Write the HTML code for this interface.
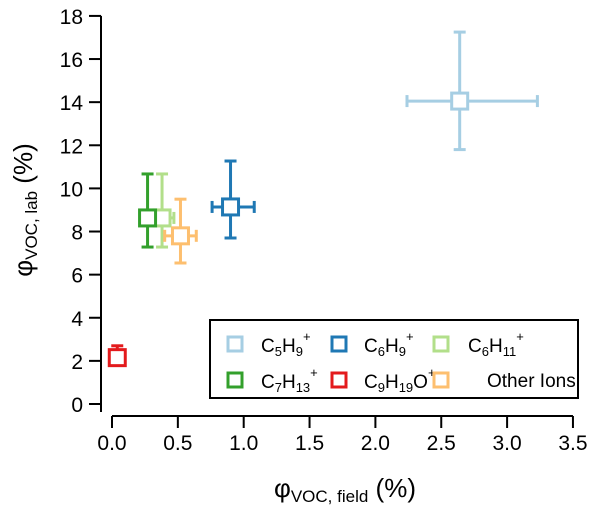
<!DOCTYPE html>
<html><head><meta charset="utf-8"><style>
body{margin:0;background:#fff}
svg text{font-family:"Liberation Sans",sans-serif;fill:#000}
</style></head><body>
<svg width="600" height="509" viewBox="0 0 600 509" xmlns="http://www.w3.org/2000/svg">
<g id="axes"></g>
<g id="marks"></g>
<g>
<rect x="210" y="320" width="368" height="78" fill="#fff" stroke="#000" stroke-width="2"/>
<rect x="228" y="337" width="14" height="14" fill="none" stroke="#a6cee3" stroke-width="3"/>
<text x="261" y="352" font-size="19">C<tspan font-size="13" dy="4">5</tspan><tspan dy="-4">H</tspan><tspan font-size="13" dy="4">9</tspan><tspan font-size="13" dy="-15">+</tspan></text>
<rect x="332" y="337" width="14" height="14" fill="none" stroke="#1f78b4" stroke-width="3"/>
<text x="364" y="352" font-size="19">C<tspan font-size="13" dy="4">6</tspan><tspan dy="-4">H</tspan><tspan font-size="13" dy="4">9</tspan><tspan font-size="13" dy="-15">+</tspan></text>
<rect x="434" y="337" width="14" height="14" fill="none" stroke="#b2df8a" stroke-width="3"/>
<text x="468" y="352" font-size="19">C<tspan font-size="13" dy="4">6</tspan><tspan dy="-4">H</tspan><tspan font-size="13" dy="4">11</tspan><tspan font-size="13" dy="-15">+</tspan></text>
<rect x="228" y="373" width="14" height="14" fill="none" stroke="#33a02c" stroke-width="3"/>
<text x="261" y="388" font-size="19">C<tspan font-size="13" dy="4">7</tspan><tspan dy="-4">H</tspan><tspan font-size="13" dy="4">13</tspan><tspan font-size="13" dy="-15">+</tspan></text>
<rect x="332" y="373" width="14" height="14" fill="none" stroke="#e31a1c" stroke-width="3"/>
<text x="364" y="388" font-size="19">C<tspan font-size="13" dy="4">9</tspan><tspan dy="-4">H</tspan><tspan font-size="13" dy="4">19</tspan><tspan dy="-4">O</tspan><tspan font-size="13" dy="-11">+</tspan></text>
<rect x="434" y="373" width="14" height="14" fill="none" stroke="#fdbf6f" stroke-width="3"/>
<text x="487" y="387" font-size="19">Other Ions</text>
</g>
<text x="345" y="497" font-size="26" text-anchor="middle">φ<tspan font-size="17" dy="5">VOC, field</tspan><tspan dy="-5"> (%)</tspan></text>
<text transform="translate(32,210) rotate(-90)" font-size="26" text-anchor="middle">φ<tspan font-size="17" dy="5">VOC, lab</tspan><tspan dy="-5"> (%)</tspan></text>
</svg>
<script>
const xTicks=[0,0.5,1,1.5,2,2.5,3,3.5];
const xTickLabels=["0.0","0.5","1.0","1.5","2.0","2.5","3.0","3.5"];
const yTicks=[0,2,4,6,8,10,12,14,16,18];
const seriesNames=["C5H9+","C6H9+","C6H11+","C7H13+","C9H19O+","Other Ions"];
const xVals=[2.64,0.90,0.38,0.27,0.04,0.52];
const yVals=[14.05,9.14,8.63,8.63,2.15,7.8];
const xLo=[2.24,0.76,0.29,0.27,0.04,0.40];
const xHi=[3.23,1.08,0.47,0.27,0.04,0.64];
const yLo=[11.8,7.7,7.28,7.28,2.15,6.54];
const yHi=[17.25,11.27,10.67,10.67,2.7,9.5];
const colors=["#a6cee3","#1f78b4","#b2df8a","#33a02c","#e31a1c","#fdbf6f"];
const NS="http://www.w3.org/2000/svg";
const sx=v=>112+v*131.7, sy=v=>404-v*21.56;
function mk(t,a,p){const e=document.createElementNS(NS,t);for(const k in a)e.setAttribute(k,a[k]);p.appendChild(e);return e;}
const ax=document.getElementById('axes');
let l=mk('line',{x1:101,y1:sy(18),x2:101,y2:412,stroke:'#000','stroke-width':2},ax);


l=mk('line',{x1:sx(0),y1:416,x2:sx(3.5),y2:416,stroke:'#000','stroke-width':2},ax);


yTicks.forEach(v=>{mk('line',{x1:89,x2:101,y1:sy(v),y2:sy(v),stroke:'#000','stroke-width':2},ax);
const t=mk('text',{x:83,y:sy(v)+8,'font-size':21,'text-anchor':'end'},ax);t.textContent=v;

});
xTicks.forEach((v,i)=>{mk('line',{x1:sx(v),x2:sx(v),y1:416,y2:428,stroke:'#000','stroke-width':2},ax);
const t=mk('text',{x:sx(v),y:450,'font-size':21,'text-anchor':'middle'},ax);t.textContent=xTickLabels[i];

});
const mg=document.getElementById('marks');
xVals.forEach((xv,i)=>{const g=mk('g',{stroke:colors[i],'stroke-width':3,fill:'none'},mg);


const cx=sx(xv),cy=sy(yVals[i]);
mk('line',{x1:cx,x2:cx,y1:sy(yHi[i]),y2:sy(yLo[i])},g);
mk('line',{x1:cx-6,x2:cx+6,y1:sy(yHi[i]),y2:sy(yHi[i])},g);
mk('line',{x1:cx-6,x2:cx+6,y1:sy(yLo[i]),y2:sy(yLo[i])},g);
if(xHi[i]>xLo[i]){mk('line',{x1:sx(xLo[i]),x2:sx(xHi[i]),y1:cy,y2:cy},g);
mk('line',{x1:sx(xLo[i]),x2:sx(xLo[i]),y1:cy-6,y2:cy+6},g);
mk('line',{x1:sx(xHi[i]),x2:sx(xHi[i]),y1:cy-6,y2:cy+6},g);}
mk('rect',{x:cx-8,y:cy-8,width:16,height:16,fill:'#fff'},g);});
</script>
</body></html>
